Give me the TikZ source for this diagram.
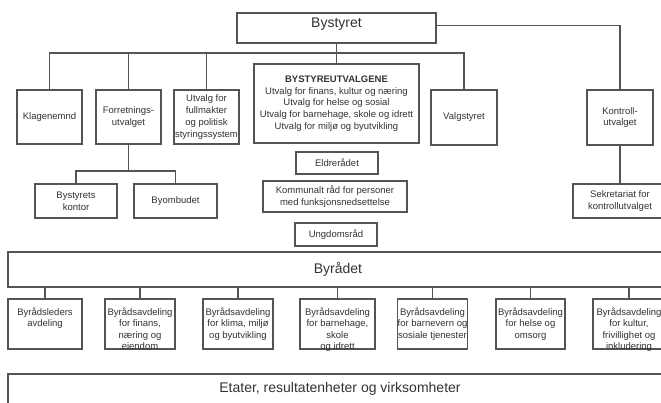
\documentclass[tikz,border=0pt]{standalone}
\usepackage{fontspec}
\setmainfont{Liberation Sans}
\usetikzlibrary{positioning}
\definecolor{linecol}{rgb}{0.33,0.33,0.33}
\definecolor{textcol}{rgb}{0.2,0.2,0.2}
\newcommand{\avdtext}[2][70pt]{\parbox[c][50pt][t]{#1}{\centering\vspace*{8.5pt}#2}}
\tikzset{
  box/.style={draw=linecol, line width=1.1pt, fill=white, text=textcol, align=center,
    inner sep=1pt, font=\fontsize{9.5}{11.7}\selectfont},
  bigbox/.style={box, font=\fontsize{14}{16}\selectfont},
  avdbox/.style={box, inner sep=0pt, font=\fontsize{9.5}{11.6}\selectfont},
  link/.style={draw=linecol, line width=1.1pt}
}

\begin{document}
\begin{tikzpicture}[x=1pt,y=-1pt]
  \useasboundingbox (0,0) rectangle (661,403);
  \clip (0,0) rectangle (661,403);

  %% bystyret and committees
  \node[bigbox, minimum width=199pt, inner sep=0pt, text height=15pt, text depth=15pt]
    (bystyret) at (336.5,28) {Bystyret};

  \node[box, minimum width=65pt, minimum height=54pt] (klage) at (49.5,117) {Klagenemnd};
  \node[box, minimum width=65pt, minimum height=54pt] (forr) at (128.5,117) {Forretnings-\\utvalget};
  \node[box, minimum width=65pt, minimum height=54pt] (fullm) at (206.5,117)
    {Utvalg for\\fullmakter\\og politisk\\styringssystem};
  \node[box, minimum width=165pt, minimum height=79pt] (utvalgene) at (336.5,103.5)
    {{\bfseries BYSTYREUTVALGENE}\\Utvalg for finans, kultur og næring\\Utvalg for helse og sosial\\
     Utvalg for barnehage, skole og idrett\\Utvalg for miljø og byutvikling};
  \node[box, minimum width=66pt, minimum height=55pt] (valg) at (464,117.5) {Valgstyret};
  \node[box, minimum width=66pt, minimum height=55pt] (kontroll) at (620,117.5) {Kontroll-\\utvalget};

  \node[box, minimum width=82pt, minimum height=34pt] (kontor) at (76,201) {Bystyrets\\kontor};
  \node[box, minimum width=83pt, minimum height=34pt] (ombud) at (175.5,201) {Byombudet};

  \node[box, minimum width=82pt, minimum height=22pt] (eldre) at (337,163) {Eldrerådet};
  \node[box, minimum width=144pt, minimum height=31pt] (kommunalt) at (335,196.5)
    {Kommunalt råd for personer\\med funksjonsnedsettelse};
  \node[box, minimum width=82pt, minimum height=23pt] (ungdom) at (336,234.5) {Ungdomsråd};

  \node[box, minimum width=94pt, minimum height=34pt] (sekr) at (620,201)
    {Sekretariat for\\kontrollutvalget};

  %% byraadet
  \node[bigbox, minimum width=660pt, minimum height=35pt] (byraadet) at (338,269.5) {Byrådet};

  \node[avdbox] (avd1) at (45,324) {\avdtext[74pt]{Byrådsleders\\avdeling}};
  \node[avdbox] (avd2) at (140,324) {\avdtext{Byrådsavdeling\\for finans,\\næring og\\eiendom}};
  \node[avdbox] (avd3) at (238,324) {\avdtext{Byrådsavdeling\\for klima, miljø\\og byutvikling}};
  \node[avdbox] (avd4) at (337.5,324) {\avdtext[75pt]{Byrådsavdeling\\for barnehage,\\skole\\og idrett}};
  \node[avdbox] (avd5) at (432.5,324) {\avdtext{Byrådsavdeling\\for barnevern og\\sosiale tjenester}};
  \node[avdbox] (avd6) at (530.5,324) {\avdtext[69pt]{Byrådsavdeling\\for helse og\\omsorg}};
  \node[avdbox] (avd7) at (629,324) {\avdtext[72pt]{Byrådsavdeling\\for kultur,\\frivillighet og\\inkludering}};

  \node[bigbox, minimum width=664pt, minimum height=30pt] (etater) at (340,389)
    {Etater, resultatenheter og virksomheter};

  %% links
  \coordinate (bus) at (0,53);
  \coordinate (fbus) at (0,171);
  \draw[link] (bystyret) -- (utvalgene);
  \draw[link] (klage.north) |- (bus -| valg.north) -- (valg.north);
  \foreach \n in {forr,fullm}
    \draw[link] (\n.north) -- (\n.north |- bus);
  \draw[link] (bystyret.mid east) -| (kontroll.north);
  \draw[link] (kontroll) -- (sekr);

  \draw[link] (forr.south) -- (forr.south |- fbus);
  \draw[link] (kontor.north) |- (fbus -| ombud.north) -- (ombud.north);

  \foreach \i in {1,...,7}
    \draw[link] (avd\i.north) -- (avd\i.north |- byraadet.south);
\end{tikzpicture}
\end{document}
